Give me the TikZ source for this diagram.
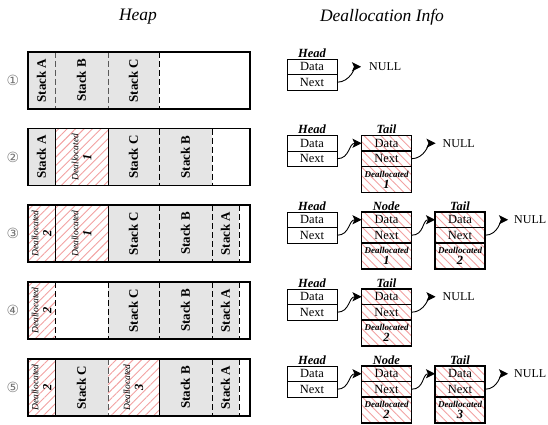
\documentclass[tikz,border=0pt]{standalone}
\usepackage{fontspec}
\setmainfont{Liberation Serif}
\newfontfamily\circfont{DejaVu Sans}
\usetikzlibrary{arrows.meta}
\usetikzlibrary{patterns.meta}
\usetikzlibrary{positioning}
\definecolor{stackgrey}{rgb}{0.9, 0.9, 0.9}
\definecolor{hatchpink}{rgb}{0.95, 0.63, 0.63}
\definecolor{circgrey}{rgb}{0.45, 0.45, 0.45}
\definecolor{darkgrey}{rgb}{0.35, 0.35, 0.35}

\def\rowh{57}
\newcommand{\freenum}{\fontsize{12.5}{12.5}\selectfont\bfseries}

\tikzset{
  x=1pt, y=-1pt,
  title/.style={font=\fontsize{17.5}{20}\selectfont\itshape},
  circnum/.style={text=circgrey, font=\circfont\fontsize{14}{16}\selectfont},
  stackcell/.style={fill=stackgrey, inner sep=0pt, font=\fontsize{13}{15}\selectfont\bfseries},
  freecell/.style={pattern={Lines[angle=45, distance=6pt, line width=0.9pt]}, pattern color=hatchpink,
    inner sep=0pt, align=center, font=\fontsize{9.5}{13}\selectfont\itshape},
  divider/.style={line width=0.9pt, dash pattern=on 6pt off 3pt},
  wall/.style={line width=0.9pt},
  frame/.style={line width=1.3pt},
  listcell/.style={draw, line width=0.8pt, minimum width=50, minimum height=15.5, inner sep=0pt,
    outer sep=0pt, font=\fontsize{12.5}{14}\selectfont},
  listfree/.style={listcell, line width=1.2pt, pattern={Lines[angle=-45, distance=6pt, line width=0.9pt]},
    pattern color=hatchpink},
  listtag/.style={inner sep=1.5pt, font=\fontsize{12.5}{14}\selectfont\bfseries\itshape},
  nulltxt/.style={anchor=west, inner sep=0pt, font=\fontsize{12}{14}\selectfont},
  link/.style={-{Stealth[length=9pt, width=9pt, inset=2pt]}, line width=0.9pt},
}

% one slot of the heap, text turned upright
\newcommand{\hcell}[6][stackcell]{%
  \node[#1, rotate=90, minimum width=\rowh, minimum height={#4-#3}] (#2) at ({(#3+#4)/2}, {#5+\rowh/2}) {#6};}
\newcommand{\hdiv}[3][divider]{\draw[#1] (#2, #3) -- ++(0, \rowh);}

% list entries
\newcommand{\headbox}[2]{%
  \node[listcell, anchor=north] (#1hd) at (312, #2) {Data};
  \node[listcell, anchor=north] (#1hn) at (#1hd.south) {Next};
  \node[listtag, anchor=south] (#1ht) at (#1hd.north) {Head};}
\newcommand{\freebox}[5]{%
  \node[listfree, anchor=north] (#1d) at (#2, #3) {Data};
  \node[listfree, anchor=north] (#1n) at (#1d.south) {Next};
  \node[listfree, anchor=north, minimum height=26, align=center,
    font=\fontsize{9}{11}\selectfont\bfseries\itshape] (#1x) at (#1n.south) {Deallocated\\\freenum #5};
  \node[listtag, anchor=south] (#1t) at (#1d.north) {#4};}

\begin{document}
\begin{tikzpicture}
  \useasboundingbox (0, 0) rectangle (548, 425);

  \node[title] (heap) at (138, 17) {Heap};
  \node[title] (info) at (382, 17) {Deallocation Info};

  \node[circnum] (n1) at (13, 80.5) {①};
  \node[circnum] (n2) at (13, 157) {②};
  \node[circnum] (n3) at (13, 233.5) {③};
  \node[circnum] (n4) at (13, 310.5) {④};
  \node[circnum] (n5) at (13, 387.5) {⑤};

  % heap rows
  \hcell{r1a}{28}{55}{52}{Stack A}
  \hcell{r1b}{55}{108}{52}{Stack B}
  \hcell{r1c}{108}{159}{52}{Stack C}
  \hdiv[divider, darkgrey]{55}{52}
  \hdiv[divider, darkgrey]{108}{52}
  \hdiv{159}{52}
  \draw[frame] (28, 52) rectangle ++(222, \rowh);

  \hcell{r2a}{28}{55}{128.5}{Stack A}
  \hcell[freecell]{r2d}{55}{108}{128.5}{Deallocated\\\freenum 1}
  \hcell{r2c}{108}{159}{128.5}{Stack C}
  \hcell{r2b}{159}{212}{128.5}{Stack B}
  \hdiv[wall]{55}{128.5}
  \hdiv[wall]{108}{128.5}
  \hdiv{159}{128.5}
  \hdiv{212}{128.5}
  \draw[frame] (28, 128.5) rectangle ++(222, \rowh);

  \hcell[freecell]{r3e}{28}{55}{205}{Deallocated\\\freenum 2}
  \hcell[freecell]{r3d}{55}{108}{205}{Deallocated\\\freenum 1}
  \hcell{r3c}{108}{159}{205}{Stack C}
  \hcell{r3b}{159}{212}{205}{Stack B}
  \hcell{r3a}{212}{239}{205}{Stack A}
  \hdiv[wall]{55}{205}
  \hdiv[wall]{108}{205}
  \hdiv{159}{205}
  \hdiv{212}{205}
  \hdiv{239}{205}
  \draw[frame] (28, 205) rectangle ++(222, \rowh);

  \hcell[freecell]{r4e}{28}{55}{282}{Deallocated\\\freenum 2}
  \hcell{r4c}{108}{159}{282}{Stack C}
  \hcell{r4b}{159}{212}{282}{Stack B}
  \hcell{r4a}{212}{239}{282}{Stack A}
  \hdiv{55}{282}
  \hdiv{108}{282}
  \hdiv{159}{282}
  \hdiv{212}{282}
  \hdiv{239}{282}
  \draw[frame] (28, 282) rectangle ++(222, \rowh);

  \hcell[freecell]{r5e}{28}{55}{359}{Deallocated\\\freenum 2}
  \hcell{r5c}{55}{108}{359}{Stack C}
  \hcell[freecell]{r5f}{108}{159}{359}{Deallocated\\\freenum 3}
  \hcell{r5b}{159}{212}{359}{Stack B}
  \hcell{r5a}{212}{239}{359}{Stack A}
  \hdiv[wall]{55}{359}
  \hdiv[divider, darkgrey]{108}{359}
  \hdiv[wall]{159}{359}
  \hdiv{212}{359}
  \hdiv{239}{359}
  \draw[frame] (28, 359) rectangle ++(222, \rowh);

  % deallocation lists
  \headbox{r1}{59}
  \node[nulltxt] (r1null) at ([xshift=32]r1hd.east) {NULL};
  \draw[link, shorten >=8pt] (r1hn.east) .. controls +(13, 0) and +(-13, 0) .. (r1null.west);

  \headbox{r2}{135.5}
  \freebox{r2t}{386.5}{135.5}{Tail}{1}
  \node[nulltxt] (r2null) at ([xshift=31]r2td.east) {NULL};
  \draw[link] (r2hn.east) .. controls +(13, 0) and +(-13, 0) .. (r2td.west);
  \draw[link, shorten >=7pt] (r2tn.east) .. controls +(13, 0) and +(-13, 0) .. (r2null.west);

  \headbox{r3}{212}
  \freebox{r3m}{386.5}{212}{Node}{1}
  \freebox{r3t}{460}{212}{Tail}{2}
  \node[nulltxt] (r3null) at ([xshift=29]r3td.east) {NULL};
  \draw[link] (r3hn.east) .. controls +(13, 0) and +(-13, 0) .. (r3md.west);
  \draw[link] (r3mn.east) .. controls +(13, 0) and +(-13, 0) .. (r3td.west);
  \draw[link, shorten >=6pt] (r3tn.east) .. controls +(13, 0) and +(-13, 0) .. (r3null.west);

  \headbox{r4}{289}
  \freebox{r4t}{386.5}{289}{Tail}{2}
  \node[nulltxt] (r4null) at ([xshift=31]r4td.east) {NULL};
  \draw[link] (r4hn.east) .. controls +(13, 0) and +(-13, 0) .. (r4td.west);
  \draw[link, shorten >=7pt] (r4tn.east) .. controls +(13, 0) and +(-13, 0) .. (r4null.west);

  \headbox{r5}{366}
  \freebox{r5m}{386.5}{366}{Node}{2}
  \freebox{r5t}{460}{366}{Tail}{3}
  \node[nulltxt] (r5null) at ([xshift=29]r5td.east) {NULL};
  \draw[link] (r5hn.east) .. controls +(13, 0) and +(-13, 0) .. (r5md.west);
  \draw[link] (r5mn.east) .. controls +(13, 0) and +(-13, 0) .. (r5td.west);
  \draw[link, shorten >=6pt] (r5tn.east) .. controls +(13, 0) and +(-13, 0) .. (r5null.west);
\end{tikzpicture}
\end{document}
